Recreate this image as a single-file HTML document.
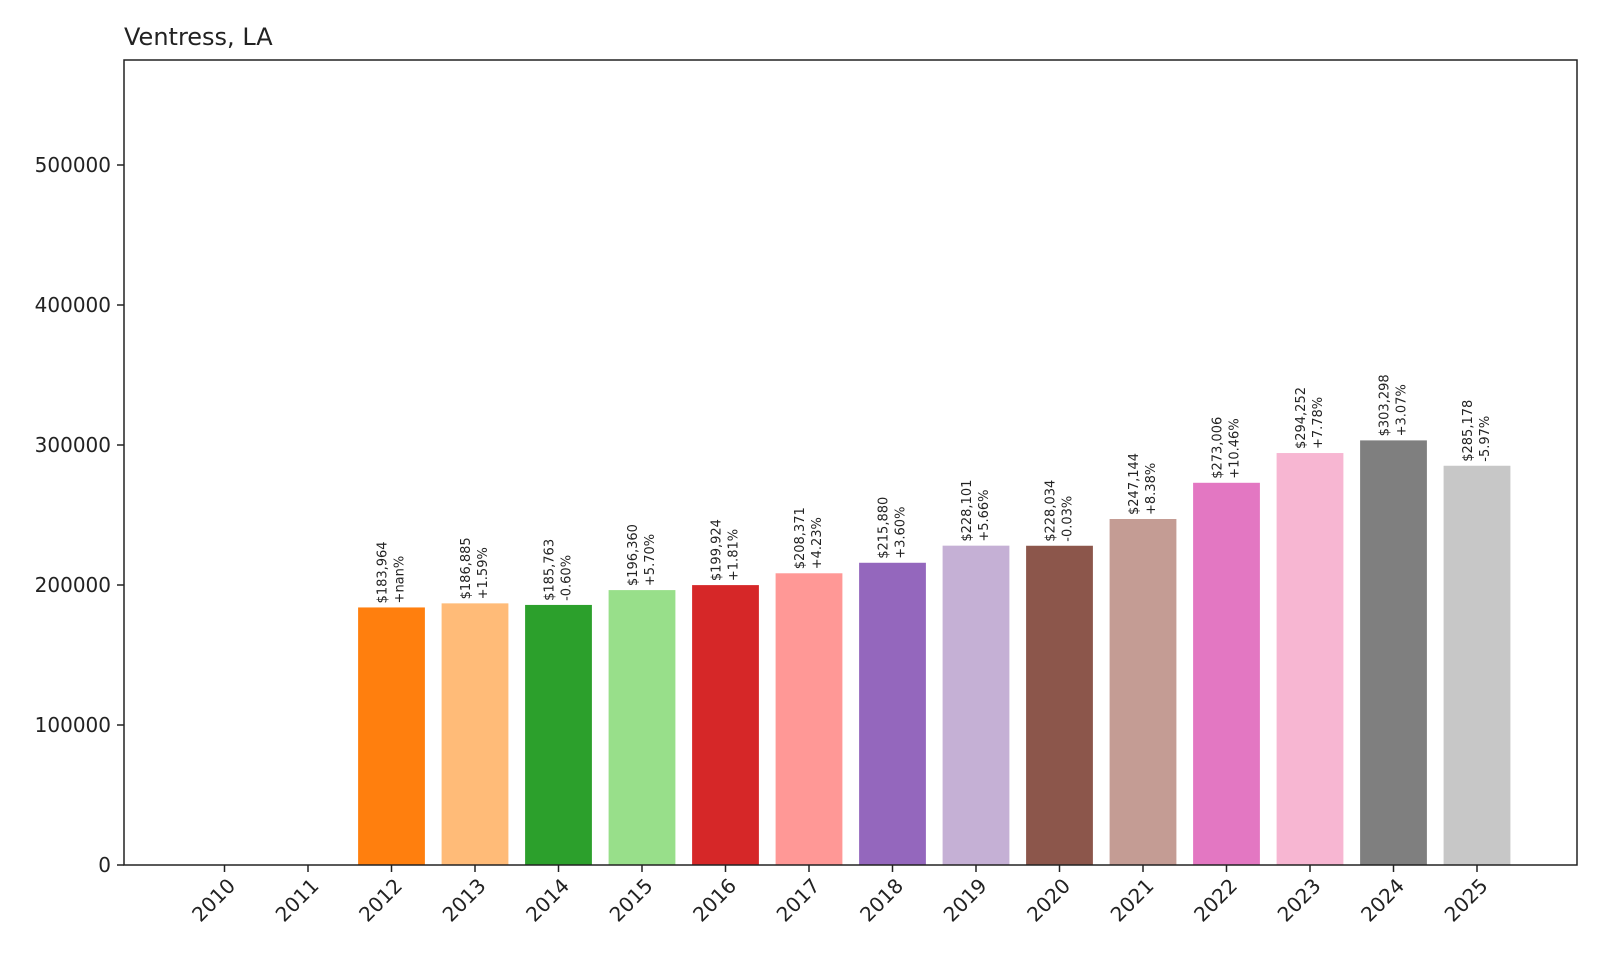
<!DOCTYPE html>
<html><head><meta charset="utf-8"><style>
body{margin:0;background:#fff;}
svg text{font-family:"DejaVu Sans","Liberation Sans",sans-serif;fill:#222;}
</style></head><body>
<svg id="chart" width="1600" height="960" viewBox="0 0 1600 960" xmlns="http://www.w3.org/2000/svg">
<rect width="1600" height="960" fill="#fff"/>
<text x="124" y="45" font-size="24">Ventress, LA</text>
<g id="bars"></g>
<g id="axes"></g>
</svg>
<script>
const years = ["2010","2011","2012","2013","2014","2015","2016","2017","2018","2019","2020","2021","2022","2023","2024","2025"];
const values = [0,0,183964,186885,185763,196360,199924,208371,215880,228101,228034,247144,273006,294252,303298,285178];
const pctLabels = ["","","+nan%","+1.59%","-0.60%","+5.70%","+1.81%","+4.23%","+3.60%","+5.66%","-0.03%","+8.38%","+10.46%","+7.78%","+3.07%","-5.97%"];
const yTicks = [0,100000,200000,300000,400000,500000];
const colors = ["#1f77b4","#aec7e8","#ff7f0e","#ffbb78","#2ca02c","#98df8a","#d62728","#ff9896","#9467bd","#c5b0d5","#8c564b","#c49c94","#e377c2","#f7b6d2","#7f7f7f","#c7c7c7"];

const NS="http://www.w3.org/2000/svg";
const L=124,R=1577,T=60,B=865;
const yMax=575000;
const step=83.5, x0=224.5;
function xPos(i){return x0+i*step;}
function yPos(v){return B-(v/yMax)*(B-T);}
function el(tag,attrs,parent){const e=document.createElementNS(NS,tag);for(const k in attrs)e.setAttribute(k,attrs[k]);parent.appendChild(e);return e;}
const bars=document.getElementById('bars'), axes=document.getElementById('axes');
const bw=step*0.8;
years.forEach((yr,i)=>{
  const v=values[i];
  const r=el('rect',{x:xPos(i)-bw/2,y:yPos(v),width:bw,height:B-yPos(v),fill:colors[i]},bars);
  
  
  if(v>0){
    const ty=yPos(v)-4;
    const money='$'+v.toLocaleString('en-US');
    const t1=el('text',{x:0,y:0,'font-size':13,transform:`translate(${xPos(i)-5},${ty}) rotate(-90)`},bars);
    t1.textContent=money;
    
    
    const t2=el('text',{x:0,y:0,'font-size':13,transform:`translate(${xPos(i)+12},${ty}) rotate(-90)`},bars);
    t2.textContent=pctLabels[i];
    
    
  }
  const tk=el('line',{x1:xPos(i),x2:xPos(i),y1:B,y2:B+7,stroke:'#222','stroke-width':1.5},axes);
  
  
  const tl=el('text',{x:0,y:0,'font-size':20,'text-anchor':'end',transform:`translate(${xPos(i)+12},${B+22}) rotate(-45)`},axes);
  tl.textContent=yr;
  
  
});
yTicks.forEach(v=>{
  const tk=el('line',{x1:L-7,x2:L,y1:yPos(v),y2:yPos(v),stroke:'#222','stroke-width':1.5},axes);
  
  
  const tl=el('text',{x:L-13,y:yPos(v)+7,'font-size':20,'text-anchor':'end'},axes);
  tl.textContent=String(v);
  
  
});
const frame=el('rect',{x:L,y:T,width:R-L,height:B-T,fill:'none',stroke:'#222','stroke-width':1.5},axes);


</script>
</body></html>
